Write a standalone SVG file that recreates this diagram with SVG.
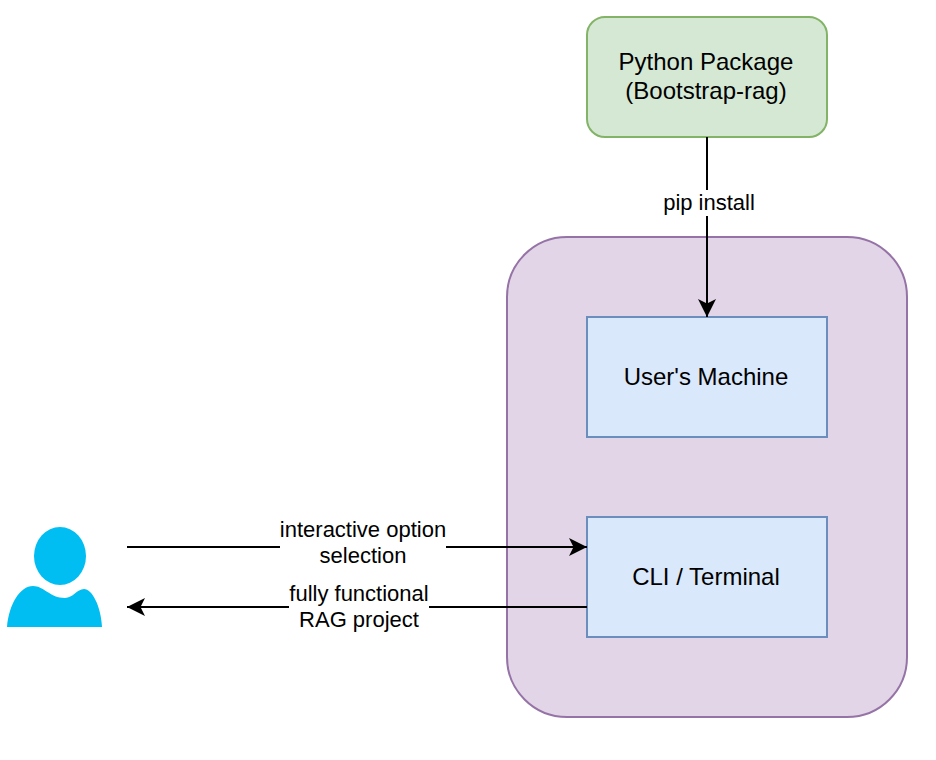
<svg xmlns="http://www.w3.org/2000/svg" width="936" height="760" viewBox="0 0 936 760">
<defs>
<style>
text{font-family:"Liberation Sans",Arial,sans-serif;fill:#000;text-anchor:middle}
.n{font-size:24px}
.l{font-size:22px}
.c{fill:none;stroke:#000;stroke-width:2}
.b{fill:#dae8fc;stroke:#6c8ebf;stroke-width:2}
</style>
<marker id="a" markerUnits="userSpaceOnUse" markerWidth="20" markerHeight="20" refX="18" refY="9" orient="auto">
<path d="M0 0L18 9L0 18L4.5 9Z" fill="#000"/>
</marker>
</defs>
<rect width="936" height="760" fill="#fff"/>
<g id="machine-group"><rect x="507" y="237" width="400" height="480" rx="60" ry="60" fill="#e1d5e7" stroke="#9673a6" stroke-width="2"/></g>
<g id="python-package"><rect x="587" y="17" width="240" height="120" rx="18" ry="18" fill="#d5e8d4" stroke="#82b366" stroke-width="2"/>
<text class="n" x="706" y="70">Python Package</text><text class="n" x="706" y="99">(Bootstrap-rag)</text></g>
<g id="users-machine"><rect class="b" x="587" y="317" width="240" height="120"/><text class="n" x="706" y="385">User's Machine</text></g>
<g id="cli-terminal"><rect class="b" x="587" y="517" width="240" height="120"/><text class="n" x="706" y="585">CLI / Terminal</text></g>
<g id="user"><ellipse cx="60" cy="556" rx="26" ry="29" fill="#00bef2"/>
<path d="M7 627C9 604 20 586 33 586C44 586 50 598 65 598C73 598 77 589 84 589C92 589 101 606 102 627Z" fill="#00bef2"/></g>
<g id="connectors">
<path class="c" d="M707 137V317" marker-end="url(#a)"/>
<path class="c" d="M127 547H587" marker-end="url(#a)"/>
<path class="c" d="M587 607H127" marker-end="url(#a)"/>
</g>
<g id="labels">
<rect x="662" y="190" width="94" height="26" fill="#fff"/>
<text class="l" x="709" y="210">pip install</text>
<rect x="280" y="517" width="166" height="60" fill="#fff"/>
<text class="l" x="363" y="537">interactive option</text><text class="l" x="363" y="563">selection</text>
<rect x="289" y="580" width="140" height="54" fill="#fff"/>
<text class="l" x="359" y="601">fully functional</text><text class="l" x="359" y="627">RAG project</text>
</g>
</svg>
